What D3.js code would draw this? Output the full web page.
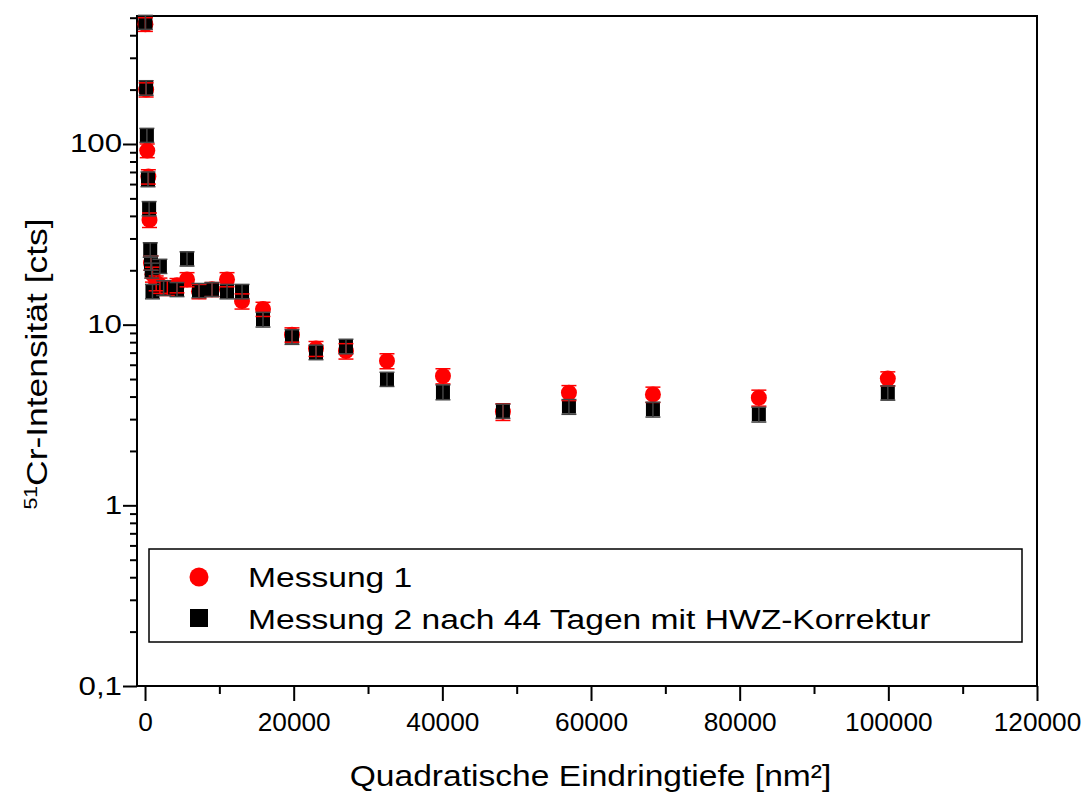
<!DOCTYPE html>
<html>
<head>
    <meta charset="utf-8">
    <script src="https://d3js.org/d3.v7.min.js"></script>
    <style>
        body { margin: 0; background: #fff; }
        text { font-family: "Liberation Sans", Arial, sans-serif; }
    </style>
</head>
<body>
    <div id="chart"></div>
    <script>
        // Messung 1 (red circles)
        var m1X = [50, 150, 300, 450, 600, 800, 1000, 1500, 2000, 3000, 4300, 5650, 7260, 9010,
                   11030, 13050, 15870, 19770, 23000, 27030, 32550, 40080, 48150, 57030, 68330, 82580, 99930];
        var m1Y = [460, 200, 92, 66, 38, 22, 19, 17, 16.5, 16, 16.5, 17.8, 15.3, 15.7,
                   17.8, 13.5, 12.2, 8.8, 7.37, 7.15, 6.3, 5.2, 3.3, 4.2, 4.11, 3.94, 5.03];
        var m1Err = [40, 18, 8, 6, 3.5, 2, 1.8, 1.6, 1.6, 1.5, 1.5, 1.6, 1.4, 1.4,
                     1.6, 1.3, 1.1, 0.8, 0.7, 0.7, 0.6, 0.5, 0.35, 0.4, 0.4, 0.4, 0.45];

        // Messung 2 nach 44 Tagen mit HWZ-Korrektur (black squares)
        var m2X = [50, 150, 250, 400, 550, 700, 800, 900, 1000, 2000, 2500, 4300, 5650, 7260,
                   9010, 11030, 13050, 15870, 19770, 23000, 27030, 32550, 40080, 48150, 57030, 68330, 82580, 99930];
        var m2Y = [473, 205, 112, 64, 44, 26, 22, 20, 15.3, 21.1, 16, 15.7, 23.2, 15.5,
                   15.7, 15.3, 15.3, 10.7, 8.58, 7.05, 7.6, 5.0, 4.24, 3.33, 3.52, 3.40, 3.19, 4.20];
        var m2Err = [42, 19, 10, 6, 4, 2.4, 2, 1.9, 1.4, 1.9, 1.5, 1.4, 2.1, 1.4,
                     1.4, 1.4, 1.4, 1.0, 0.8, 0.65, 0.7, 0.45, 0.4, 0.3, 0.33, 0.32, 0.3, 0.38];

        var xMajor = [0, 20000, 40000, 60000, 80000, 100000, 120000];
        var xMinor = [10000, 30000, 50000, 70000, 90000, 110000];
        var yMajor = [0.1, 1, 10, 100];
        var yMajorLabels = ["0,1", "1", "10", "100"];
        var yMinor = [0.2, 0.3, 0.4, 0.5, 0.6, 0.7, 0.8, 0.9,
                      2, 3, 4, 5, 6, 7, 8, 9,
                      20, 30, 40, 50, 60, 70, 80, 90,
                      200, 300, 400, 500];

        var legendLabels = ["Messung 1", "Messung 2 nach 44 Tagen mit HWZ-Korrektur"];

        var W = 1087, H = 792;
        var margin = { top: 16, right: 50, bottom: 106, left: 137 },
            width = W - margin.left - margin.right,
            height = H - margin.top - margin.bottom;

        // the original export stretches most text horizontally
        var stretch = 1.2;

        var svg = d3.select("#chart")
            .append("svg")
            .attr("width", W)
            .attr("height", H)
            .append("g")
            .attr("transform", "translate(" + margin.left + "," + margin.top + ")");

        var x = d3.scaleLinear()
            .domain([-1080, 120000])
            .range([0, width]);

        var y = d3.scaleLog()
            .domain([0.1, 511])
            .range([height, 0]);

        // X axis, major and minor ticks
        var xAxisMajor = svg.append("g")
            .attr("transform", "translate(0," + height + ")")
            .call(d3.axisBottom(x).tickValues(xMajor).tickSize(15).tickPadding(12)
                .tickFormat(function (d) { return d3.format("d")(d); }));
        var xAxisMinor = svg.append("g")
            .attr("transform", "translate(0," + height + ")")
            .call(d3.axisBottom(x).tickValues(xMinor).tickSize(8).tickFormat(""));

        // Y axis
        var yAxisMajor = svg.append("g")
            .call(d3.axisLeft(y).tickValues(yMajor).tickSize(14).tickPadding(1)
                .tickFormat(function (d, i) { return yMajorLabels[i]; }));
        var yAxisMinor = svg.append("g")
            .call(d3.axisLeft(y).tickValues(yMinor).tickSize(7).tickFormat(""));

        [xAxisMajor, xAxisMinor, yAxisMajor, yAxisMinor].forEach(function (g) {
            g.select(".domain").remove();
            g.selectAll(".tick line").attr("stroke", "#000").attr("stroke-width", 2);
            g.selectAll(".tick text").style("font-size", "25px").attr("fill", "#000")
                .style("font-family", "'Liberation Sans', Arial, sans-serif");
        });
        xAxisMajor.selectAll(".tick text")
            .attr("transform", "scale(1.05,1)");
        yAxisMajor.selectAll(".tick text")
            .attr("x", -15 / 1.25)
            .attr("transform", "scale(1.25,1)");

        // frame
        svg.append("rect")
            .attr("x", 0)
            .attr("y", 0)
            .attr("width", width)
            .attr("height", height)
            .attr("fill", "none")
            .attr("stroke", "#000")
            .attr("stroke-width", 2);

        // axis titles
        svg.append("text")
            .attr("text-anchor", "middle")
            .attr("transform", "translate(" + (width / 2 + 3.5) + "," + (height + 100) + ") scale(1.12,1)")
            .style("font-size", "30px")
            .text("Quadratische Eindringtiefe [nm²]");

        var yTitle = svg.append("text")
            .attr("text-anchor", "middle")
            .attr("transform", "translate(" + (47 - margin.left) + "," + (364 - margin.top) + ") rotate(-90) scale(1.18,1)")
            .style("font-size", "30px");
        yTitle.append("tspan").attr("baseline-shift", "super").style("font-size", "18px").text("51");
        yTitle.append("tspan").text("Cr-Intensität [cts]");

        var plot = svg.append("g");

        var m1 = m1X.map(function (d, i) { return { x: d, y: m1Y[i], e: m1Err[i] }; });
        var m2 = m2X.map(function (d, i) { return { x: d, y: m2Y[i], e: m2Err[i] }; });

        // red markers
        plot.selectAll(".m1")
            .data(m1)
            .enter()
            .append("circle")
            .attr("cx", function (d) { return x(d.x); })
            .attr("cy", function (d) { return y(d.y); })
            .attr("r", 8)
            .style("fill", "#ff0000");

        // black squares
        var sq = 14;
        plot.selectAll(".m2")
            .data(m2)
            .enter()
            .append("rect")
            .attr("x", function (d) { return x(d.x) - sq / 2; })
            .attr("y", function (d) { return y(d.y) - sq / 2; })
            .attr("width", sq)
            .attr("height", sq)
            .style("fill", "#000");

        // error bars
        function errorBars(data, color) {
            var g = plot.append("g").attr("stroke", color).attr("stroke-width", 1.5);
            data.forEach(function (d) {
                var cx = x(d.x), y1 = y(d.y + d.e), y2 = y(d.y - d.e);
                g.append("line").attr("x1", cx).attr("x2", cx).attr("y1", y1).attr("y2", y2);
                g.append("line").attr("x1", cx - 7.5).attr("x2", cx + 7.5).attr("y1", y1).attr("y2", y1);
                g.append("line").attr("x1", cx - 7.5).attr("x2", cx + 7.5).attr("y1", y2).attr("y2", y2);
            });
        }
        errorBars(m1, "#ff0000");
        errorBars(m2, "#444");

        // legend
        var lg = svg.append("g")
            .attr("transform", "translate(" + (149 - margin.left) + "," + (549 - margin.top) + ")");
        lg.append("rect")
            .attr("width", 873)
            .attr("height", 93)
            .attr("fill", "#fff")
            .attr("stroke", "#000")
            .attr("stroke-width", 1.5);
        lg.append("circle")
            .attr("cx", 50)
            .attr("cy", 28)
            .attr("r", 9.5)
            .style("fill", "#ff0000");
        lg.append("rect")
            .attr("x", 41)
            .attr("y", 60)
            .attr("width", 18)
            .attr("height", 18)
            .style("fill", "#000");
        lg.selectAll(".lab")
            .data(legendLabels)
            .enter()
            .append("text")
            .attr("transform", function (d, i) {
                return "translate(99," + (38 + i * 41.5) + ") scale(" + stretch + ",1)";
            })
            .style("font-size", "28px")
            .text(function (d) { return d; });
    </script>
</body>
</html>
